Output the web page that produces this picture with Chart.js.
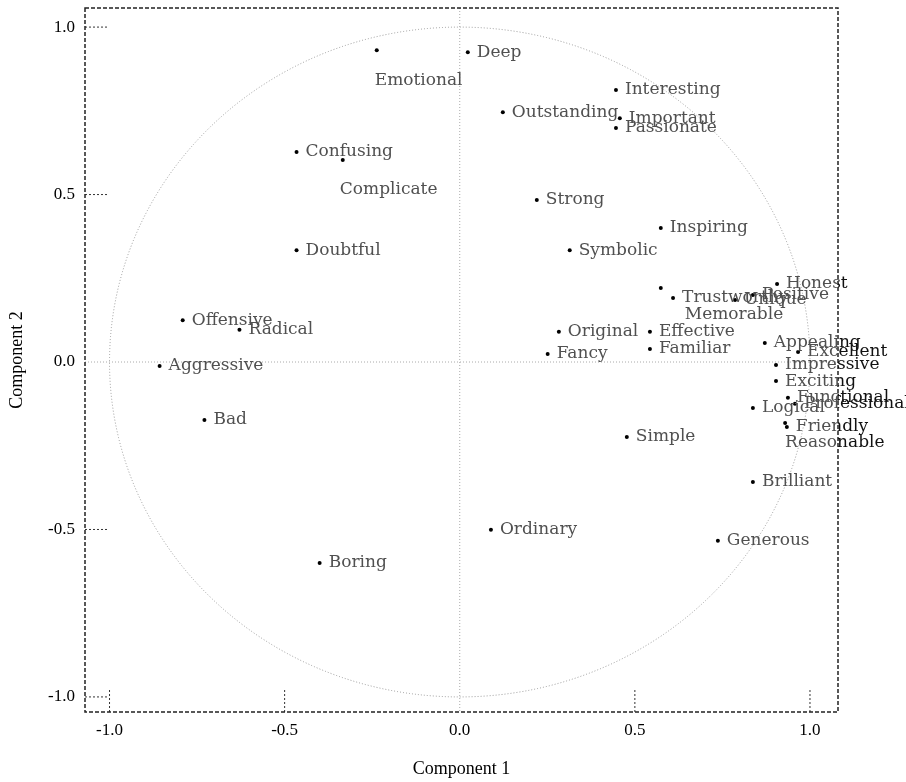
<!DOCTYPE html>
<html>
<head>
<meta charset="utf-8">
<script src="https://cdn.jsdelivr.net/npm/chart.js@4.4.1/dist/chart.umd.min.js"></script>
<style>
  html, body { margin: 0; padding: 0; background: #fff; }
  #wrap { width: 906px; height: 782px; }
</style>
</head>
<body>
<div id="wrap"><canvas id="pca-chart"></canvas></div>
<script>
// loadings
const terms = ['Deep', 'Emotional', 'Interesting', 'Outstanding', 'Important', 'Passionate',
    'Confusing', 'Complicate', 'Strong', 'Inspiring', 'Doubtful', 'Symbolic',
    'Honest', 'Positive', 'Unique', 'Memorable', 'Trustworthy',
    'Offensive', 'Radical', 'Aggressive', 'Original', 'Effective', 'Fancy', 'Familiar',
    'Appealing', 'Excellent', 'Impressive', 'Exciting', 'Functional', 'Professional',
    'Logical', 'Friendly', 'Reasonable', 'Bad', 'Simple', 'Brilliant',
    'Ordinary', 'Generous', 'Boring'];
const comp1 = [0.023, -0.237, 0.446, 0.123, 0.457, 0.446,
    -0.466, -0.334, 0.220, 0.574, -0.466, 0.314,
    0.906, 0.837, 0.786, 0.574, 0.609,
    -0.791, -0.629, -0.857, 0.283, 0.543, 0.251, 0.543,
    0.871, 0.966, 0.903, 0.903, 0.937, 0.957,
    0.837, 0.934, 0.929, -0.729, 0.477, 0.837,
    0.089, 0.737, -0.400];
const comp2 = [0.925, 0.931, 0.812, 0.746, 0.728, 0.699,
    0.627, 0.603, 0.484, 0.400, 0.334, 0.334,
    0.233, 0.200, 0.185, 0.221, 0.191,
    0.125, 0.096, -0.012, 0.090, 0.090, 0.024, 0.039,
    0.057, 0.030, -0.009, -0.057, -0.107, -0.125,
    -0.137, -0.194, -0.182, -0.173, -0.224, -0.358,
    -0.501, -0.534, -0.600];
const tickValues = [-1.0, -0.5, 0.0, 0.5, 1.0];

// labels that sit away from their point (px)
const labelNudge = {
    Emotional: [-2, 30],
    Complicate: [-3, 30],
    Memorable: [24, 27],
    Reasonable: [0, 20]
};

const labelFont = '17px "DejaVu Serif"';

const frame = {
    id: 'frame',
    beforeDatasetsDraw(chart) {
        const { ctx, chartArea: a, scales: { x, y } } = chart;
        const x0 = x.getPixelForValue(0), y0 = y.getPixelForValue(0);
        ctx.save();
        // zero lines
        ctx.strokeStyle = '#aaaaaa';
        ctx.lineWidth = 1;
        ctx.setLineDash([1, 2]);
        ctx.beginPath();
        ctx.moveTo(a.left, y0); ctx.lineTo(a.right, y0);
        ctx.moveTo(x0, a.top); ctx.lineTo(x0, a.bottom);
        ctx.stroke();
        // unit circle
        ctx.strokeStyle = '#999999';
        ctx.beginPath();
        ctx.ellipse(x0, y0, x.getPixelForValue(1) - x0, y0 - y.getPixelForValue(1), 0, 0, Math.PI * 2);
        ctx.stroke();
        // inner tick marks
        ctx.strokeStyle = '#333';
        ctx.setLineDash([2, 2]);
        ctx.beginPath();
        tickValues.forEach(v => {
            if (v === 0) return;
            const py = y.getPixelForValue(v);
            ctx.moveTo(a.left, py); ctx.lineTo(a.left + 22, py);
            const px = x.getPixelForValue(v);
            ctx.moveTo(px, a.bottom); ctx.lineTo(px, a.bottom - 22);
        });
        ctx.stroke();
        // dashed box
        ctx.strokeStyle = '#222';
        ctx.lineWidth = 1.5;
        ctx.setLineDash([4, 2]);
        ctx.strokeRect(a.left, a.top, a.right - a.left, a.bottom - a.top);
        ctx.restore();
    },
    afterDraw(chart) {
        const { ctx, chartArea: a, width, height } = chart;
        const pts = chart.getDatasetMeta(0).data;
        // grey inside the frame, black where a label runs past the right edge
        [['#505050', 0, a.right], ['#111111', a.right, width]].forEach(([col, x1, x2]) => {
            ctx.save();
            ctx.beginPath();
            ctx.rect(x1, 0, x2 - x1, height);
            ctx.clip();
            ctx.font = labelFont;
            ctx.fillStyle = col;
            ctx.textAlign = 'left';
            ctx.textBaseline = 'middle';
            pts.forEach((p, i) => {
                const n = labelNudge[terms[i]] || [9, 0];
                ctx.fillText(terms[i], p.x + n[0], p.y + n[1]);
            });
            ctx.restore();
        });
    }
};

new Chart(document.getElementById('pca-chart'), {
    type: 'scatter',
    data: {
        datasets: [{
            label: 'Loadings',
            data: terms.map((t, i) => ({ x: comp1[i], y: comp2[i] })),
            backgroundColor: '#000',
            borderWidth: 0,
            pointRadius: 2,
            clip: false
        }]
    },
    options: {
        responsive: true,
        maintainAspectRatio: false,
        animation: false,
        layout: { padding: { top: 8, right: 68, left: 0, bottom: 0 } },
        plugins: {
            legend: { display: false },
            tooltip: { enabled: false }
        },
        scales: {
            x: {
                type: 'linear',
                min: -1.07,
                max: 1.08,
                afterBuildTicks: s => { s.ticks = tickValues.map(v => ({ value: v })); },
                afterFit: s => { s.height = 70; s.paddingLeft = 0; s.paddingRight = 0; },
                grid: { display: false },
                border: { display: false },
                ticks: {
                    color: '#000',
                    font: { family: 'Liberation Serif', size: 17 },
                    padding: 0,
                    callback: v => v.toFixed(1)
                },
                title: {
                    display: true,
                    text: 'Component 1',
                    color: '#000',
                    font: { family: 'Liberation Serif', size: 18 },
                    padding: { top: 4, bottom: 2 }
                }
            },
            y: {
                type: 'linear',
                min: -1.045,
                max: 1.057,
                afterBuildTicks: s => { s.ticks = tickValues.map(v => ({ value: v })); },
                afterFit: s => { s.width = 85; s.paddingTop = 0; s.paddingBottom = 0; },
                grid: { display: false },
                border: { display: false },
                ticks: {
                    color: '#000',
                    font: { family: 'Liberation Serif', size: 17 },
                    padding: 2,
                    callback: v => v.toFixed(1)
                },
                title: {
                    display: true,
                    text: 'Component 2',
                    color: '#000',
                    font: { family: 'Liberation Serif', size: 18 },
                    padding: { top: 6, bottom: 4 }
                }
            }
        }
    },
    plugins: [frame]
});
</script>
</body>
</html>
